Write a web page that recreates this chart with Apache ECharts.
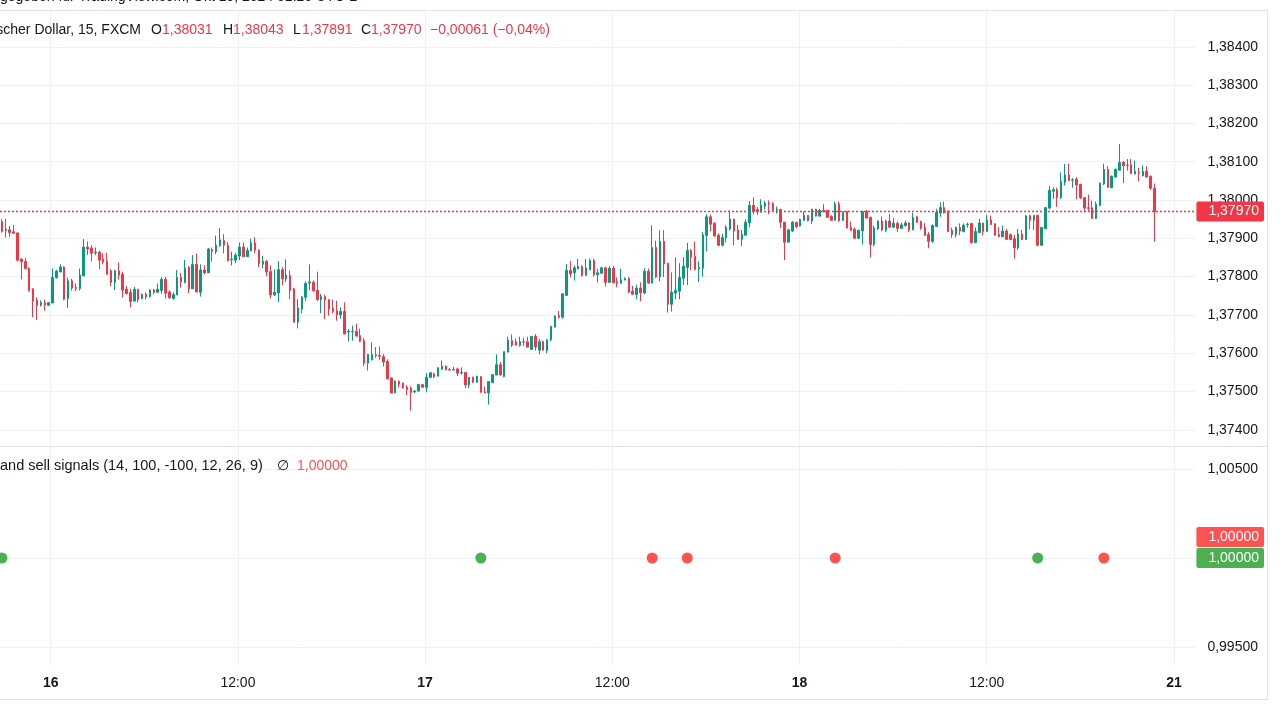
<!DOCTYPE html>
<html><head><meta charset="utf-8">
<script src="https://cdn.jsdelivr.net/npm/echarts@6/dist/echarts.min.js"></script>
<style>html,body{margin:0;padding:0;background:#fff}#c{width:1280px;height:720px}</style>
</head><body><div id="c"></div>
<script>
// ---- data (USD/CAD, 15 min, FXCM) ----
const opens = [
1.37944,1.37920,1.37922,1.37917,1.37914,1.37846,1.37840,1.37822,1.37767,1.37738,
1.37725,1.37732,1.37725,1.37731,1.37797,1.37812,1.37825,1.37743,1.37789,1.37772,
1.37769,1.37802,1.37877,1.37875,1.37862,1.37864,1.37846,1.37840,1.37815,1.37785,
1.37815,1.37806,1.37767,1.37759,1.37736,1.37767,1.37743,1.37754,1.37748,1.37765,
1.37759,1.37764,1.37793,1.37760,1.37743,1.37752,1.37798,1.37785,1.37825,1.37768,
1.37832,1.37759,1.37817,1.37810,1.37871,1.37865,1.37881,1.37894,1.37882,1.37844,
1.37843,1.37854,1.37877,1.37852,1.37867,1.37888,1.37869,1.37832,1.37840,1.37813,
1.37752,1.37757,1.37818,1.37794,1.37803,1.37768,1.37681,1.37715,1.37746,1.37783,
1.37785,1.37764,1.37740,1.37748,1.37740,1.37717,1.37711,1.37700,1.37709,1.37655,
1.37656,1.37657,1.37646,1.37633,1.37574,1.37583,1.37596,1.37594,1.37591,1.37579,
1.37535,1.37496,1.37526,1.37522,1.37511,1.37509,1.37499,1.37501,1.37518,1.37511,
1.37537,1.37546,1.37540,1.37558,1.37566,1.37557,1.37556,1.37559,1.37548,1.37550,
1.37517,1.37537,1.37524,1.37539,1.37499,1.37496,1.37523,1.37543,1.37570,1.37539,
1.37603,1.37633,1.37630,1.37620,1.37630,1.37630,1.37610,1.37644,1.37608,1.37630,
1.37607,1.37635,1.37668,1.37698,1.37694,1.37751,1.37816,1.37810,1.37820,1.37826,
1.37803,1.37818,1.37842,1.37805,1.37809,1.37823,1.37785,1.37822,1.37786,1.37783,
1.37791,1.37795,1.37762,1.37753,1.37770,1.37757,1.37814,1.37783,1.37876,1.37799,
1.37892,1.37835,1.37728,1.37757,1.37762,1.37796,1.37824,1.37868,1.37853,1.37820,
1.37822,1.37908,1.37956,1.37939,1.37908,1.37882,1.37901,1.37924,1.37950,1.37922,
1.37897,1.37908,1.37940,1.37986,1.37975,1.37968,1.37984,1.37992,1.37990,1.37974,
1.37975,1.37942,1.37890,1.37919,1.37942,1.37932,1.37947,1.37960,1.37945,1.37976,
1.37958,1.37973,1.37973,1.37957,1.37947,1.37989,1.37947,1.37970,1.37929,1.37924,
1.37900,1.37919,1.37970,1.37955,1.37884,1.37925,1.37945,1.37921,1.37945,1.37929,
1.37939,1.37926,1.37933,1.37940,1.37922,1.37956,1.37944,1.37928,1.37910,1.37892,
1.37931,1.37966,1.37980,1.37971,1.37921,1.37910,1.37928,1.37918,1.37936,1.37939,
1.37889,1.37915,1.37940,1.37918,1.37948,1.37938,1.37910,1.37904,1.37919,1.37909,
1.37899,1.37875,1.37911,1.37897,1.37959,1.37947,1.37960,1.37882,1.37925,1.37979,
1.38023,1.38027,1.38007,1.38046,1.38065,1.38052,1.38054,1.38041,1.38006,1.37980,
1.37980,1.37952,1.37986,1.38042,1.38080,1.38032,1.38060,1.38078,1.38099,1.38090,
1.38092,1.38068,1.38072,1.38063,1.38075,1.38062,1.38031];
const closes = [
1.37918,1.37924,1.37915,1.37913,1.37843,1.37839,1.37821,1.37764,1.37736,1.37725,
1.37732,1.37725,1.37732,1.37798,1.37814,1.37825,1.37741,1.37789,1.37770,1.37769,
1.37804,1.37877,1.37872,1.37861,1.37864,1.37843,1.37838,1.37806,1.37785,1.37815,
1.37804,1.37765,1.37756,1.37735,1.37767,1.37740,1.37753,1.37747,1.37765,1.37759,
1.37767,1.37793,1.37757,1.37745,1.37753,1.37798,1.37786,1.37822,1.37768,1.37832,
1.37760,1.37817,1.37810,1.37872,1.37866,1.37882,1.37896,1.37882,1.37841,1.37846,
1.37856,1.37877,1.37852,1.37868,1.37888,1.37869,1.37834,1.37840,1.37812,1.37752,
1.37759,1.37818,1.37794,1.37804,1.37764,1.37681,1.37718,1.37747,1.37782,1.37786,
1.37763,1.37740,1.37748,1.37739,1.37715,1.37709,1.37700,1.37709,1.37650,1.37657,
1.37657,1.37645,1.37631,1.37574,1.37597,1.37597,1.37593,1.37592,1.37577,1.37533,
1.37496,1.37527,1.37519,1.37509,1.37505,1.37497,1.37501,1.37518,1.37511,1.37537,
1.37549,1.37539,1.37562,1.37566,1.37557,1.37556,1.37557,1.37548,1.37550,1.37517,
1.37537,1.37524,1.37540,1.37498,1.37496,1.37526,1.37544,1.37570,1.37543,1.37604,
1.37634,1.37621,1.37621,1.37630,1.37629,1.37616,1.37644,1.37616,1.37630,1.37608,
1.37635,1.37670,1.37697,1.37694,1.37755,1.37816,1.37807,1.37823,1.37827,1.37803,
1.37823,1.37842,1.37805,1.37810,1.37823,1.37785,1.37822,1.37784,1.37783,1.37792,
1.37795,1.37759,1.37754,1.37770,1.37758,1.37814,1.37783,1.37876,1.37799,1.37892,
1.37833,1.37728,1.37759,1.37764,1.37798,1.37827,1.37868,1.37851,1.37819,1.37824,
1.37909,1.37956,1.37937,1.37906,1.37882,1.37902,1.37929,1.37950,1.37919,1.37897,
1.37910,1.37942,1.37986,1.37970,1.37969,1.37986,1.37992,1.37990,1.37974,1.37976,
1.37942,1.37890,1.37922,1.37942,1.37931,1.37949,1.37960,1.37946,1.37976,1.37958,
1.37973,1.37969,1.37955,1.37947,1.37989,1.37946,1.37969,1.37927,1.37921,1.37900,
1.37921,1.37970,1.37953,1.37884,1.37927,1.37945,1.37922,1.37945,1.37929,1.37939,
1.37926,1.37935,1.37940,1.37922,1.37955,1.37942,1.37927,1.37908,1.37892,1.37934,
1.37968,1.37980,1.37966,1.37918,1.37910,1.37928,1.37919,1.37934,1.37937,1.37889,
1.37918,1.37940,1.37918,1.37948,1.37936,1.37908,1.37904,1.37919,1.37897,1.37897,
1.37875,1.37911,1.37897,1.37958,1.37947,1.37960,1.37882,1.37928,1.37980,1.38025,
1.38027,1.38007,1.38048,1.38065,1.38051,1.38053,1.38039,1.38006,1.37979,1.37978,
1.37952,1.37989,1.38044,1.38080,1.38033,1.38062,1.38080,1.38098,1.38089,1.38091,
1.38069,1.38075,1.38070,1.38075,1.38060,1.38031,1.37970];
const lows = [
1.37915,1.37902,1.37904,1.37911,1.37839,1.37793,1.37819,1.37760,1.37694,1.37687,
1.37722,1.37711,1.37724,1.37731,1.37795,1.37812,1.37738,1.37718,1.37764,1.37762,
1.37764,1.37802,1.37856,1.37840,1.37856,1.37820,1.37832,1.37806,1.37775,1.37765,
1.37792,1.37746,1.37753,1.37720,1.37735,1.37733,1.37741,1.37740,1.37745,1.37754,
1.37759,1.37755,1.37743,1.37741,1.37740,1.37752,1.37771,1.37782,1.37757,1.37768,
1.37759,1.37748,1.37806,1.37810,1.37839,1.37859,1.37877,1.37861,1.37840,1.37829,
1.37835,1.37843,1.37852,1.37852,1.37867,1.37861,1.37825,1.37822,1.37801,1.37743,
1.37749,1.37733,1.37778,1.37786,1.37741,1.37680,1.37665,1.37704,1.37736,1.37764,
1.37761,1.37736,1.37705,1.37689,1.37698,1.37704,1.37685,1.37690,1.37650,1.37631,
1.37633,1.37643,1.37629,1.37566,1.37555,1.37581,1.37588,1.37583,1.37565,1.37532,
1.37496,1.37496,1.37511,1.37508,1.37491,1.37450,1.37496,1.37501,1.37510,1.37498,
1.37535,1.37535,1.37540,1.37558,1.37555,1.37555,1.37555,1.37540,1.37544,1.37509,
1.37509,1.37523,1.37523,1.37497,1.37496,1.37466,1.37522,1.37543,1.37542,1.37537,
1.37602,1.37616,1.37620,1.37617,1.37619,1.37615,1.37610,1.37607,1.37597,1.37607,
1.37600,1.37631,1.37668,1.37690,1.37690,1.37750,1.37798,1.37790,1.37820,1.37800,
1.37803,1.37817,1.37800,1.37785,1.37807,1.37774,1.37784,1.37783,1.37772,1.37781,
1.37790,1.37757,1.37753,1.37741,1.37736,1.37754,1.37781,1.37783,1.37796,1.37788,
1.37799,1.37706,1.37709,1.37741,1.37741,1.37778,1.37778,1.37817,1.37816,1.37786,
1.37800,1.37866,1.37918,1.37905,1.37879,1.37879,1.37889,1.37920,1.37882,1.37897,
1.37880,1.37908,1.37929,1.37963,1.37961,1.37968,1.37975,1.37963,1.37972,1.37964,
1.37927,1.37843,1.37890,1.37916,1.37926,1.37931,1.37946,1.37944,1.37937,1.37957,
1.37956,1.37968,1.37954,1.37946,1.37947,1.37943,1.37945,1.37926,1.37920,1.37899,
1.37898,1.37884,1.37952,1.37850,1.37879,1.37922,1.37919,1.37916,1.37928,1.37927,
1.37916,1.37924,1.37931,1.37916,1.37921,1.37940,1.37922,1.37906,1.37874,1.37888,
1.37930,1.37956,1.37965,1.37916,1.37901,1.37902,1.37908,1.37915,1.37928,1.37886,
1.37887,1.37914,1.37907,1.37917,1.37935,1.37906,1.37904,1.37904,1.37896,1.37895,
1.37847,1.37870,1.37895,1.37896,1.37924,1.37922,1.37879,1.37880,1.37925,1.37976,
1.38003,1.37982,1.38002,1.38038,1.38049,1.38032,1.38002,1.38002,1.37968,1.37972,
1.37950,1.37950,1.37984,1.38039,1.38032,1.38031,1.38058,1.38077,1.38044,1.38077,
1.38068,1.38067,1.38049,1.38062,1.38059,1.38026,1.37891];
const highs = [
1.37950,1.37951,1.37932,1.37935,1.37916,1.37847,1.37849,1.37824,1.37770,1.37746,
1.37738,1.37740,1.37734,1.37821,1.37818,1.37832,1.37827,1.37797,1.37794,1.37782,
1.37821,1.37898,1.37892,1.37882,1.37876,1.37867,1.37861,1.37862,1.37820,1.37818,
1.37837,1.37813,1.37776,1.37768,1.37773,1.37768,1.37756,1.37759,1.37767,1.37768,
1.37782,1.37799,1.37799,1.37764,1.37759,1.37817,1.37810,1.37843,1.37827,1.37856,
1.37860,1.37832,1.37830,1.37875,1.37876,1.37907,1.37927,1.37911,1.37890,1.37865,
1.37862,1.37889,1.37889,1.37876,1.37899,1.37903,1.37871,1.37854,1.37843,1.37829,
1.37819,1.37840,1.37825,1.37845,1.37816,1.37771,1.37741,1.37749,1.37788,1.37832,
1.37790,1.37813,1.37755,1.37753,1.37740,1.37740,1.37737,1.37720,1.37733,1.37663,
1.37672,1.37677,1.37664,1.37640,1.37598,1.37628,1.37616,1.37617,1.37597,1.37584,
1.37537,1.37529,1.37529,1.37523,1.37517,1.37513,1.37504,1.37520,1.37520,1.37548,
1.37550,1.37549,1.37563,1.37581,1.37568,1.37561,1.37564,1.37562,1.37563,1.37550,
1.37538,1.37539,1.37541,1.37539,1.37513,1.37527,1.37546,1.37597,1.37577,1.37604,
1.37643,1.37649,1.37638,1.37643,1.37640,1.37643,1.37644,1.37650,1.37637,1.37633,
1.37635,1.37670,1.37699,1.37710,1.37757,1.37833,1.37841,1.37829,1.37846,1.37830,
1.37846,1.37847,1.37847,1.37820,1.37826,1.37826,1.37827,1.37828,1.37798,1.37820,
1.37798,1.37799,1.37776,1.37779,1.37785,1.37822,1.37821,1.37934,1.37894,1.37921,
1.37921,1.37836,1.37811,1.37850,1.37835,1.37851,1.37888,1.37872,1.37892,1.37840,
1.37916,1.37963,1.37962,1.37942,1.37913,1.37912,1.37934,1.37973,1.37951,1.37935,
1.37922,1.37949,1.37997,1.38007,1.37982,1.38002,1.37998,1.37999,1.37995,1.37983,
1.37977,1.37943,1.37925,1.37945,1.37943,1.37951,1.37970,1.37961,1.37977,1.37977,
1.37977,1.37989,1.37974,1.37960,1.37996,1.37996,1.37971,1.37972,1.37944,1.37928,
1.37922,1.37972,1.37974,1.37956,1.37933,1.37947,1.37957,1.37949,1.37963,1.37953,
1.37943,1.37941,1.37946,1.37942,1.37967,1.37959,1.37946,1.37940,1.37916,1.37936,
1.37977,1.37994,1.37996,1.37972,1.37928,1.37931,1.37939,1.37939,1.37941,1.37939,
1.37928,1.37951,1.37940,1.37961,1.37959,1.37939,1.37929,1.37933,1.37925,1.37913,
1.37909,1.37924,1.37922,1.37961,1.37961,1.37960,1.37961,1.37930,1.37982,1.38037,
1.38033,1.38032,1.38072,1.38094,1.38095,1.38057,1.38060,1.38042,1.38008,1.38014,
1.37998,1.37996,1.38046,1.38095,1.38088,1.38064,1.38082,1.38146,1.38101,1.38107,
1.38107,1.38103,1.38084,1.38090,1.38088,1.38064,1.38043];

// signal indicator: bar indices of buy / sell dots, plotted at value 1
const buySignalIdx = [0, 123, 266];
const sellSignalIdx = [167, 176, 214, 283];
const signalValue = 1.0;

// axes
const priceMin = 1.374, priceMax = 1.384, priceStep = 0.001;
const sigMin = 0.995, sigMax = 1.005, sigStep = 0.005;
const totalSlots = 307;            // bars + empty future slots
const weekendAfter = 297;          // first slot after the weekend gap

// categories: 15-min bars starting Oct 15 20:45
const categories = [];
(function(){
  const start = Date.UTC(2024, 9, 15, 20, 45);
  const p = n => String(n).padStart(2, '0');
  for (let i = 0; i < totalSlots; i++) {
    let t = start + i * 15 * 60000 + (i >= weekendAfter ? 2 * 86400000 : 0);
    const d = new Date(t);
    categories.push(d.getUTCFullYear() + '-' + p(d.getUTCMonth() + 1) + '-' + p(d.getUTCDate()) + ' ' + p(d.getUTCHours()) + ':' + p(d.getUTCMinutes()));
  }
})();

const candleData = opens.map((o, i) => [o, closes[i], lows[i], highs[i]]);
const last = closes.length - 1;
const fmt = v => v.toFixed(5).replace('.', ',');
const chg = closes[last] - closes[last - 1];
const chgPct = chg / closes[last - 1] * 100;
const sgn = v => (v < 0 ? '\u2212' : '+');
const chgText = sgn(chg) + fmt(Math.abs(chg)) + ' (' + sgn(chg) + Math.abs(chgPct).toFixed(2).replace('.', ',') + '%)';

const FONT = '"Liberation Sans", Arial, sans-serif';
const TXT = '#131722', UP = '#089981', DOWN = '#F23645';
const GRIDC = '#eef0f4', BORDER = '#e0e3eb';
const SIG_RED = '#FF5252', SIG_GREEN = '#4CAF50';

const isMajor = v => v.endsWith(' 00:00') || v.endsWith(' 12:00');

const chart = echarts.init(document.getElementById('c'), null, {renderer: 'canvas'});
const gridLeft = -3.75, gridRight = 84.6;
const slotW = (1280 - gridLeft - gridRight) / totalSlots;

const boxLabel = (bg, text, extra) => Object.assign({
  show: true, position: 'end', distance: 1, formatter: () => text,
  color: '#ffffff', backgroundColor: bg, padding: [3, 5, 3, 12], borderRadius: 2,
  fontSize: 14, fontFamily: FONT}, extra || {});

const staticGraphics = [
  {type: 'line', z: 50, shape: {x1: 0, y1: 10.5, x2: 1267, y2: 10.5}, style: {stroke: BORDER, lineWidth: 1}},
  {type: 'line', z: 50, shape: {x1: 0, y1: 446.5, x2: 1267, y2: 446.5}, style: {stroke: BORDER, lineWidth: 1}},
  {type: 'line', z: 50, shape: {x1: 0, y1: 699.5, x2: 1267.5, y2: 699.5}, style: {stroke: BORDER, lineWidth: 1}},
  {type: 'line', z: 50, shape: {x1: 1267.5, y1: 10, x2: 1267.5, y2: 700}, style: {stroke: BORDER, lineWidth: 1}},
  {type: 'text', z: 50, x: 0, y: 4, style: {text: 'gegeben für TradingView.com, Okt 19, 2024 01:26 UTC-2', fill: TXT, font: '14px ' + FONT, verticalAlign: 'bottom'}},
  {type: 'text', z: 50, x: 141, y: 30, style: {text: 'U.S. Dollar / Kanadischer Dollar, 15, FXCM', fill: TXT, font: '14px ' + FONT, align: 'right', verticalAlign: 'middle'}},
  {type: 'text', z: 50, x: 151, y: 30, style: {text: 'O', fill: TXT, font: '14px ' + FONT, verticalAlign: 'middle'}},
  {type: 'text', z: 50, x: 162, y: 30, style: {text: fmt(opens[last]), fill: DOWN, font: '14px ' + FONT, verticalAlign: 'middle'}},
  {type: 'text', z: 50, x: 223, y: 30, style: {text: 'H', fill: TXT, font: '14px ' + FONT, verticalAlign: 'middle'}},
  {type: 'text', z: 50, x: 233, y: 30, style: {text: fmt(highs[last]), fill: DOWN, font: '14px ' + FONT, verticalAlign: 'middle'}},
  {type: 'text', z: 50, x: 293, y: 30, style: {text: 'L', fill: TXT, font: '14px ' + FONT, verticalAlign: 'middle'}},
  {type: 'text', z: 50, x: 302, y: 30, style: {text: fmt(lows[last]), fill: DOWN, font: '14px ' + FONT, verticalAlign: 'middle'}},
  {type: 'text', z: 50, x: 361, y: 30, style: {text: 'C', fill: TXT, font: '14px ' + FONT, verticalAlign: 'middle'}},
  {type: 'text', z: 50, x: 371, y: 30, style: {text: fmt(closes[last]), fill: DOWN, font: '14px ' + FONT, verticalAlign: 'middle'}},
  {type: 'text', z: 50, x: 430, y: 30, style: {text: chgText, fill: DOWN, font: '14px ' + FONT, verticalAlign: 'middle'}},
  {type: 'text', z: 50, x: 0, y: 466, style: {text: 'and sell signals (14, 100, -100, 12, 26, 9)', fill: TXT, font: '14.5px ' + FONT, verticalAlign: 'middle'}},
  {type: 'text', z: 50, x: 277, y: 466, style: {text: '\u2205', fill: TXT, font: '14px "DejaVu Sans", ' + FONT, verticalAlign: 'middle'}},
  {type: 'text', z: 50, x: 297, y: 466, style: {text: fmt(signalValue), fill: SIG_RED, font: '14px ' + FONT, verticalAlign: 'middle'}}
];

chart.setOption({
  animation: false,
  backgroundColor: '#ffffff',
  textStyle: {fontFamily: FONT},
  grid: [
    {left: gridLeft, right: gridRight, top: 46.8, height: 383},
    {left: gridLeft, right: gridRight, top: 469, height: 178},
    {left: gridLeft + slotW / 2, right: gridRight + slotW / 2, top: 10, height: 655}
  ],
  xAxis: [
    {type: 'category', gridIndex: 0, data: categories, boundaryGap: true,
     axisLine: {show: false}, axisTick: {show: false}, axisLabel: {show: false}, splitLine: {show: false}},
    {type: 'category', gridIndex: 1, data: categories, boundaryGap: true,
     axisLine: {show: false}, axisTick: {show: false}, axisLabel: {show: false}, splitLine: {show: false}},
    {type: 'category', gridIndex: 2, data: categories, boundaryGap: false,
     axisLine: {show: false}, axisTick: {show: false},
     splitLine: {show: true, interval: (i, v) => isMajor(v), lineStyle: {color: GRIDC, width: 1}},
     axisLabel: {show: true, interval: (i, v) => isMajor(v), margin: 11, color: TXT, fontSize: 14, fontFamily: FONT,
       formatter: v => v.endsWith(' 00:00') ? '{d|' + parseInt(v.slice(8, 10), 10) + '}' : '{t|12:00}',
       rich: {d: {fontWeight: 'bold', fontSize: 14, color: TXT, fontFamily: FONT}, t: {fontSize: 14, color: TXT, fontFamily: FONT}}}}
  ],
  yAxis: [
    {type: 'value', gridIndex: 0, position: 'right', min: priceMin, max: priceMax, interval: priceStep,
     axisLine: {show: false}, axisTick: {show: false},
     axisLabel: {margin: 12, color: TXT, fontSize: 14, fontFamily: FONT, formatter: v => fmt(v)},
     splitLine: {show: true, lineStyle: {color: GRIDC, width: 1}}},
    {type: 'value', gridIndex: 1, position: 'right', min: sigMin, max: sigMax, interval: sigStep,
     axisLine: {show: false}, axisTick: {show: false},
     axisLabel: {margin: 12, color: TXT, fontSize: 14, fontFamily: FONT, formatter: v => Math.abs(v - signalValue) < 1e-9 ? '' : fmt(v)},
     splitLine: {show: true, lineStyle: {color: GRIDC, width: 1}}},
    {type: 'value', gridIndex: 2, show: false, splitLine: {show: false}}
  ],
  series: [
    {type: 'candlestick', xAxisIndex: 0, yAxisIndex: 0, data: candleData, barWidth: 2,
     itemStyle: {color: UP, color0: DOWN, borderColor: UP, borderColor0: DOWN, borderWidth: 1}},
    {type: 'line', name: 'lastPrice', xAxisIndex: 0, yAxisIndex: 0, data: [], symbol: 'none',
     markLine: {silent: true, symbol: ['none', 'none'], animation: false, precision: 5,
       lineStyle: {color: 'transparent', width: 0},
       label: boxLabel(DOWN, fmt(closes[last])),
       data: [{yAxis: closes[last]}]}},
    {type: 'scatter', name: 'buy', xAxisIndex: 1, yAxisIndex: 1, symbol: 'circle', symbolSize: 11,
     itemStyle: {color: SIG_GREEN, opacity: 1},
     data: buySignalIdx.map(i => [i, signalValue]),
     markLine: {silent: true, symbol: ['none', 'none'], animation: false, lineStyle: {color: 'transparent', width: 0},
       label: boxLabel(SIG_GREEN, fmt(signalValue)),
       data: [{yAxis: signalValue}]}},
    {type: 'scatter', name: 'sell', xAxisIndex: 1, yAxisIndex: 1, symbol: 'circle', symbolSize: 11,
     itemStyle: {color: SIG_RED, opacity: 1},
     data: sellSignalIdx.map(i => [i, signalValue]),
     markLine: {silent: true, symbol: ['none', 'none'], animation: false, lineStyle: {color: 'transparent', width: 0},
       label: boxLabel(SIG_RED, fmt(signalValue), {offset: [0, -21]}),
       data: [{yAxis: signalValue}]}}
  ],
  graphic: {elements: staticGraphics}
});

// dotted last-price line, positioned through the price axis scale
const yLast = Math.round(chart.convertToPixel({yAxisIndex: 0}, closes[last])) + 0.5;
const gridRect = chart.getModel().getComponent('grid', 0).coordinateSystem.getRect();
chart.setOption({graphic: {elements: staticGraphics.concat([
  {type: 'line', z: 40, silent: true,
   shape: {x1: Math.max(0, gridRect.x), y1: yLast, x2: gridRect.x + gridRect.width, y2: yLast},
   style: {stroke: DOWN, lineWidth: 1.3, lineDash: [2, 2]}}
])}});
</script>
</body></html>
